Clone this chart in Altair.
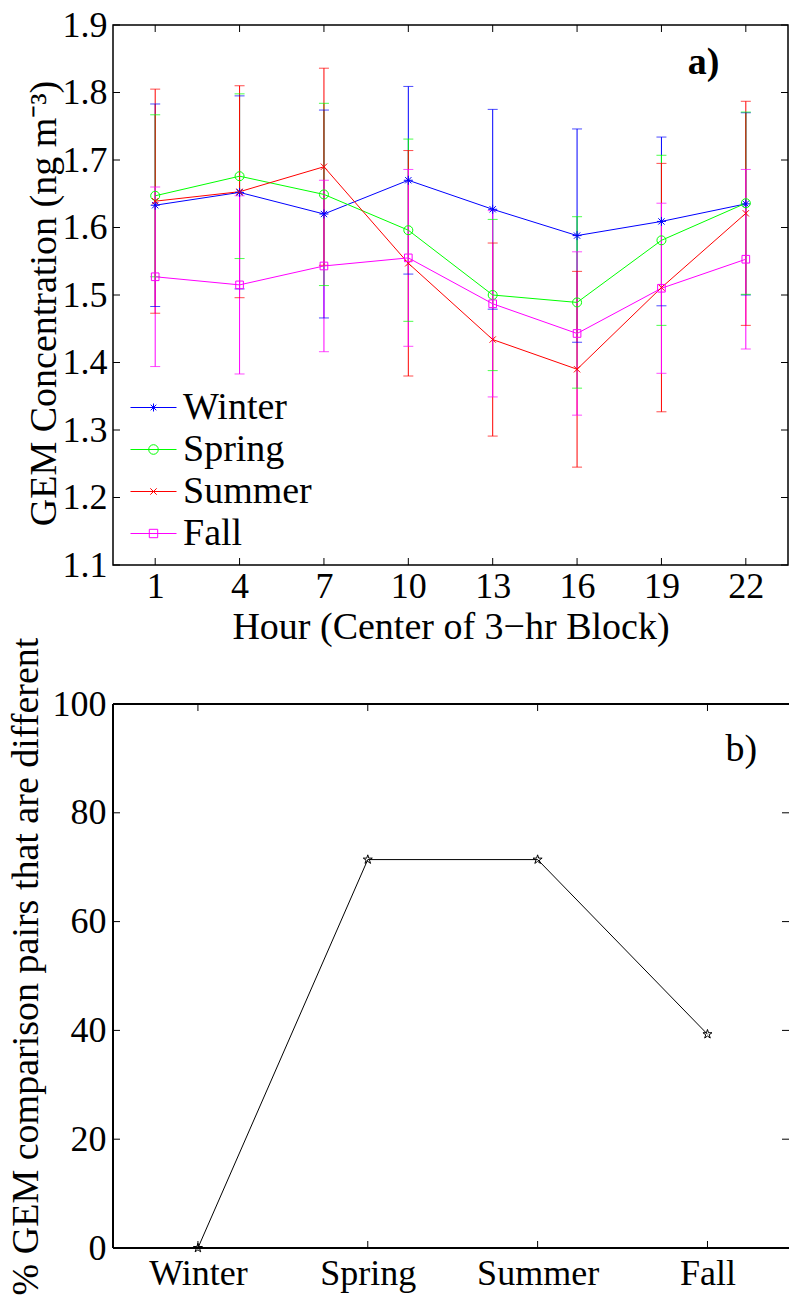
import altair as alt
import pandas as pd

# ---------------- data ----------------
hours = [1, 4, 7, 10, 13, 16, 19, 22]
seasons = ["Winter", "Spring", "Summer", "Fall"]
colors = ["#0000ff", "#00ff00", "#ff0000", "#ff00ff"]

winter_mean = [1.633, 1.652, 1.620, 1.670, 1.627, 1.588, 1.609, 1.635]
winter_err = [0.150, 0.143, 0.154, 0.139, 0.148, 0.158, 0.125, 0.135]
spring_mean = [1.647, 1.676, 1.649, 1.596, 1.500, 1.489, 1.581, 1.636]
spring_err = [0.120, 0.122, 0.135, 0.135, 0.112, 0.127, 0.126, 0.135]
summer_mean = [1.639, 1.653, 1.690, 1.547, 1.434, 1.390, 1.511, 1.621]
summer_err = [0.166, 0.157, 0.146, 0.167, 0.143, 0.145, 0.184, 0.166]
fall_mean = [1.527, 1.515, 1.543, 1.555, 1.487, 1.443, 1.510, 1.553]
fall_err = [0.133, 0.132, 0.127, 0.131, 0.138, 0.121, 0.126, 0.133]

pct_different = [0, 71.4, 71.4, 39.3]

y_ticks_a = [1.1, 1.2, 1.3, 1.4, 1.5, 1.6, 1.7, 1.8, 1.9]
y_ticks_b = [0, 20, 40, 60, 80, 100]
season_pos = [1, 2, 3, 4]

means = [winter_mean, spring_mean, summer_mean, fall_mean]
errs = [winter_err, spring_err, summer_err, fall_err]

rows = []
for s, ms, es in zip(seasons, means, errs):
    for h, m, e in zip(hours, ms, es):
        rows.append({"season": s, "hour": h, "mean": m, "lo": m - e, "hi": m + e})
df = pd.DataFrame(rows)

df_b = pd.DataFrame({"pos": season_pos, "season": seasons, "pct": pct_different})

# ---------------- style ----------------
FONT = "Liberation Serif"
W1, H1 = 675, 540
W2, H2 = 676, 544
TL = 7  # inward tick length

xs_a = alt.Scale(domain=[-0.5, 23.5], nice=False, zero=False)
ys_a = alt.Scale(domain=[1.1, 1.9], nice=False, zero=False)
cscale = alt.Scale(domain=seasons, range=colors)

marker_paths = [
    "M-1,0L1,0M0,-1L0,1M-0.7,-0.7L0.7,0.7M-0.7,0.7L0.7,-0.7",
    "M1,0A1,1 0 1,1 -1,0A1,1 0 1,1 1,0",
    "M-0.7,-0.7L0.7,0.7M-0.7,0.7L0.7,-0.7",
    "M-0.85,-0.85H0.85V0.85H-0.85Z",
]
LINE = "M-1.15,0L1.15,0"
legend_paths = [
    LINE + "M0,-0.2L0,0.2M-0.14,-0.14L0.14,0.14M-0.14,0.14L0.14,-0.14",
    LINE + "M0.24,0A0.24,0.24 0 1,1 -0.24,0A0.24,0.24 0 1,1 0.24,0",
    LINE + "M-0.16,-0.16L0.16,0.16M-0.16,0.16L0.16,-0.16",
    LINE + "M-0.21,-0.21H0.21V0.21H-0.21Z",
]

legend_props = dict(
    title=None, orient="none", legendX=20, legendY=362, symbolSize=1600,
    symbolStrokeWidth=1, labelFont=FONT, labelFontSize=38, labelColor="black",
    labelOffset=9, rowPadding=2, padding=0, labelLimit=400,
)
LEG = alt.Legend(**legend_props)

ax_xa = alt.Axis(values=hours, title="Hour (Center of 3\u2212hr Block)", labelPadding=4, titlePadding=4)
ax_ya = alt.Axis(values=y_ticks_a, format=".1f", title="GEM Concentration (ng m\u207b\u00b3)",
                 labelPadding=6, titlePadding=-1, titleY=278)

base = alt.Chart(df)
X = alt.X("hour:Q", scale=xs_a, axis=ax_xa)
def Y(f):
    return alt.Y(f, scale=ys_a, axis=ax_ya)
C = alt.Color("season:N", scale=cscale, legend=None)

err_rule = base.mark_rule(strokeWidth=1).encode(x=X, y=Y("lo:Q"), y2="hi:Q", color=C)
cap_lo = base.mark_tick(orient="horizontal", size=10, thickness=1).encode(x=X, y=Y("lo:Q"), color=C)
cap_hi = base.mark_tick(orient="horizontal", size=10, thickness=1).encode(x=X, y=Y("hi:Q"), color=C)
lines = base.mark_line(strokeWidth=1).encode(x=X, y=Y("mean:Q"), color=C)
points = base.mark_point(filled=False, size=81, strokeWidth=1, opacity=1).encode(
    x=X, y=Y("mean:Q"), color=C,
    shape=alt.Shape("season:N", scale=alt.Scale(domain=seasons, range=marker_paths), legend=None),
)
legend_layer = base.transform_filter("false").mark_point(filled=False, strokeWidth=1, opacity=1).encode(
    x=X, y=Y("mean:Q"),
    color=alt.Color("season:N", scale=cscale, legend=LEG),
    shape=alt.Shape("season:N", scale=alt.Scale(domain=seasons, range=legend_paths), legend=LEG),
)

tx_a = alt.Chart(pd.DataFrame({"hour": hours}))
ty_a = alt.Chart(pd.DataFrame({"mean": y_ticks_a}))
ticks_a = [
    tx_a.mark_rule(color="black", strokeWidth=1).encode(x=X, y=alt.value(H1), y2=alt.value(H1 - TL)),
    tx_a.mark_rule(color="black", strokeWidth=1).encode(x=X, y=alt.value(0), y2=alt.value(TL)),
    ty_a.mark_rule(color="black", strokeWidth=1).encode(y=Y("mean:Q"), x=alt.value(0), x2=alt.value(TL)),
    ty_a.mark_rule(color="black", strokeWidth=1).encode(y=Y("mean:Q"), x=alt.value(W1 - TL), x2=alt.value(W1)),
]
label_a = alt.Chart(pd.DataFrame({"k": [0]})).mark_text(
    font=FONT, fontSize=38, fontWeight="bold", color="black", align="center", baseline="middle"
).encode(x=alt.datum(20.5, scale=xs_a, axis=ax_xa), y=alt.datum(1.843, scale=ys_a, axis=ax_ya),
         text=alt.value("a)"))

top = alt.layer(err_rule, cap_lo, cap_hi, lines, points, legend_layer, *ticks_a, label_a).resolve_scale(
    shape="independent", color="independent").properties(
    width=W1, height=H1, view=alt.ViewBackground(stroke="black", strokeWidth=1.5))

# ---------------- bottom panel ----------------
xs_b = alt.Scale(domain=[0.5, 4.48], nice=False, zero=False)
ys_b = alt.Scale(domain=[0, 100], nice=False, zero=False)
label_expr = "[" + ",".join("'%s'" % s for s in seasons) + "][datum.value - 1]"
star = ("M0,-1L0.223,-0.307L0.951,-0.309L0.361,0.117L0.588,0.809L0,0.38"
        "L-0.588,0.809L-0.361,0.117L-0.951,-0.309L-0.223,-0.307Z")

ax_xb = alt.Axis(values=season_pos, labelExpr=label_expr, title=None, labelPadding=8)
ax_yb = alt.Axis(values=y_ticks_b, title="% GEM comparison pairs that are different",
                 labelPadding=7, titlePadding=7, titleY=262)
XB = alt.X("pos:Q", scale=xs_b, axis=ax_xb)
YB = alt.Y("pct:Q", scale=ys_b, axis=ax_yb)

base_b = alt.Chart(df_b)
line_b = base_b.mark_line(color="black", strokeWidth=1).encode(x=XB, y=YB)
pts_b = base_b.mark_point(shape=star, size=90, filled=False, color="black", strokeWidth=1, opacity=1).encode(
    x=XB, y=YB)

tx_b = alt.Chart(pd.DataFrame({"pos": season_pos}))
ty_b = alt.Chart(pd.DataFrame({"pct": y_ticks_b}))
ticks_b = [
    tx_b.mark_rule(color="black", strokeWidth=1).encode(x=XB, y=alt.value(H2), y2=alt.value(H2 - TL)),
    tx_b.mark_rule(color="black", strokeWidth=1).encode(x=XB, y=alt.value(0), y2=alt.value(TL)),
    ty_b.mark_rule(color="black", strokeWidth=1).encode(y=YB, x=alt.value(0), x2=alt.value(TL)),
    ty_b.mark_rule(color="black", strokeWidth=1).encode(y=YB, x=alt.value(W2 - TL), x2=alt.value(W2)),
]
# frame of the lower panel: left, top and bottom sides (right side falls outside the figure)
frame_b = [
    tx_b.mark_rule(color="black", strokeWidth=1.5).encode(x=alt.value(0), y=alt.value(0), y2=alt.value(H2)),
    tx_b.mark_rule(color="black", strokeWidth=1.5).encode(y=alt.value(0), x=alt.value(0), x2=alt.value(W2)),
    tx_b.mark_rule(color="black", strokeWidth=1.5).encode(y=alt.value(H2), x=alt.value(0), x2=alt.value(W2)),
]
label_b = alt.Chart(pd.DataFrame({"k": [0]})).mark_text(
    font=FONT, fontSize=38, color="black", align="center", baseline="middle"
).encode(x=alt.datum(4.2, scale=xs_b, axis=ax_xb), y=alt.datum(91.5, scale=ys_b, axis=ax_yb),
         text=alt.value("b)"))

bottom = alt.layer(line_b, pts_b, *ticks_b, *frame_b, label_b).properties(
    width=W2, height=H2, view=alt.ViewBackground(strokeWidth=0))

chart = alt.vconcat(top, bottom, spacing=139, bounds="flush").properties(
    padding={"left": 6, "top": 6, "right": 0, "bottom": 0}
).configure_axis(
    domain=False, ticks=False, grid=False,
    labelFont=FONT, labelFontSize=36, labelColor="black",
    titleFont=FONT, titleFontSize=38, titleFontWeight="normal", titleColor="black",
)

chart.save("out.html", embed_options={"renderer": "svg", "actions": False})
